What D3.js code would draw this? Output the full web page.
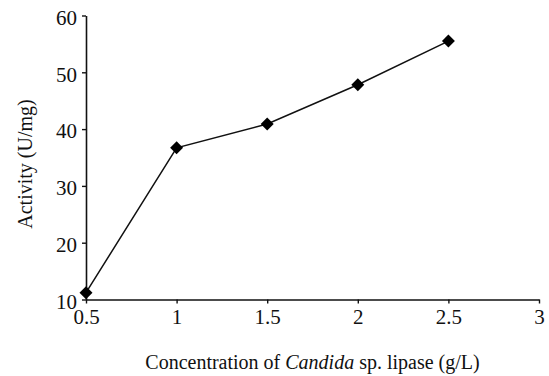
<!DOCTYPE html>
<html>
<head>
<meta charset="utf-8">
<script src="https://cdn.jsdelivr.net/npm/d3@7"></script>
<style>
  html, body { margin: 0; padding: 0; background: #fff; }
  svg { display: block; }
  text { font-family: "Liberation Serif", "Times New Roman", serif; fill: #111; }
  .tick text { font-family: "Liberation Serif", "Times New Roman", serif; font-size: 21px; }
</style>
</head>
<body>
<script>
// Lipase activity vs. enzyme concentration
const concentration = [0.5, 1, 1.5, 2, 2.5];
const activity = [11.2, 36.7, 40.9, 47.8, 55.5];
const xTicks = [0.5, 1, 1.5, 2, 2.5, 3];
const yTicks = [10, 20, 30, 40, 50, 60];

const width = 549, height = 376;

const svg = d3.select("body").append("svg")
  .attr("width", width).attr("height", height);

const x = d3.scaleLinear().domain([0.5, 3]).range([86, 539]);
const y = d3.scaleLinear().domain([10, 60]).range([299.5, 15.5]);

const fmt = d => String(d);

const xAxis = svg.append("g")
  .attr("transform", `translate(0,${y(10)})`)
  .call(d3.axisBottom(x).tickValues(xTicks).tickFormat(fmt).tickSize(4).tickSizeOuter(0).tickPadding(6));
const yAxis = svg.append("g")
  .attr("transform", `translate(${x(0.5)},0)`)
  .call(d3.axisLeft(y).tickValues(yTicks).tickFormat(fmt).tickSize(4).tickSizeOuter(0).tickPadding(5));

[xAxis, yAxis].forEach(g => {
  g.attr("font-family", null).attr("font-size", null);
  g.select(".domain").attr("stroke", "#111").attr("stroke-width", 1.6);
  g.selectAll(".tick line").attr("stroke", "#111").attr("stroke-width", 1.4);
  g.selectAll(".tick text").attr("fill", "#111");
});
yAxis.selectAll(".tick text").attr("dy", "0.42em");

const data = concentration.map((c, i) => ({ c, a: activity[i] }));

svg.append("path")
  .datum(data)
  .attr("fill", "none")
  .attr("stroke", "#111")
  .attr("stroke-width", 1.5)
  .attr("d", d3.line().x(d => x(d.c)).y(d => y(d.a)));

const marker = d3.symbol().type(d3.symbolSquare).size(84);
svg.selectAll("path.pt")
  .data(data)
  .join("path")
  .attr("class", "pt")
  .attr("fill", "#000")
  .attr("transform", d => `translate(${x(d.c)},${y(d.a)}) rotate(45)`)
  .attr("d", marker);

// Axis titles
svg.append("text")
  .attr("transform", `translate(32,164) rotate(-90)`)
  .attr("text-anchor", "middle")
  .attr("font-size", 20)
  .text("Activity (U/mg)");

const xt = svg.append("text")
  .attr("x", (x(0.5) + x(3)) / 2)
  .attr("y", 369)
  .attr("text-anchor", "middle")
  .attr("font-size", 20);
xt.append("tspan").text("Concentration of ");
xt.append("tspan").attr("font-style", "italic").text("Candida");
xt.append("tspan").text(" sp. lipase (g/L)");
</script>
</body>
</html>
